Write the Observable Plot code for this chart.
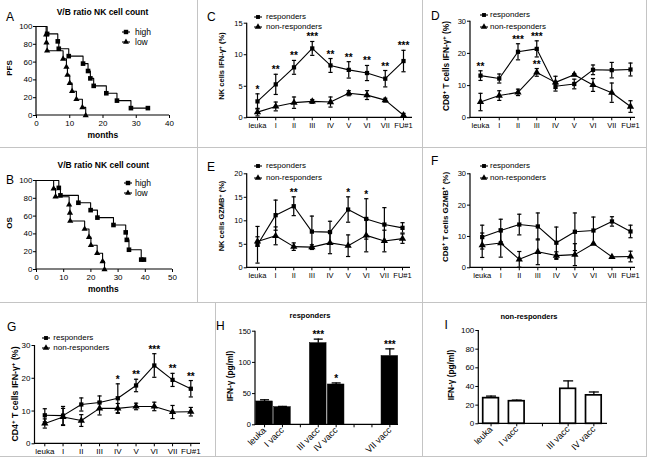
<!DOCTYPE html>
<html><head><meta charset="utf-8">
<script src="https://cdn.jsdelivr.net/npm/d3@7"></script>
<script src="https://cdn.jsdelivr.net/npm/@observablehq/plot@0.6"></script>
<style>
body{margin:0;background:#fff;}
#fig{position:relative;width:647px;height:465px;font-family:"Liberation Sans",Arial,Helvetica,sans-serif;color:#000;overflow:hidden;background:#fff;}
#fig > svg{position:absolute;left:0;top:0;}
.t{position:absolute;white-space:nowrap;line-height:1;}
.t sup{font-size:70%;vertical-align:0.45em;line-height:0;}
.grid{position:absolute;background:#c4c4c4;}
</style></head><body><div id="fig"></div><script>
// ---------------- DATA ----------------
// Kaplan-Meier, V/B ratio NK cell count (first point = start of curve)
const aHighTime = [0, 3.2, 6.4, 6.7, 9.7, 14.0, 15.5, 16.2, 17.2, 21.0, 24.2, 28.4, 33.5];
const aHighSurv = [100, 91.7, 83.3, 75, 66.7, 58.3, 50, 41.7, 33.3, 25, 16.7, 8.3, 8.3];
const aLowTime  = [0, 2.9, 3.0, 3.2, 8.0, 9.0, 9.3, 10.0, 10.7, 12.0, 13.8, 14.8];
const aLowSurv  = [100, 90.9, 81.8, 72.7, 63.6, 54.5, 45.5, 36.4, 27.3, 18.2, 9.1, 0];
const bHighTime = [0, 8.2, 8.8, 15.4, 19.9, 22.4, 28.3, 32.8, 33.2, 34.0, 38.5, 39.5];
const bHighSurv = [100, 91.7, 83.3, 75, 66.7, 58.3, 50, 41.7, 33.3, 22.2, 11.1, 11.1];
const bLowTime  = [0, 6.3, 7.0, 12.0, 12.3, 12.4, 17.7, 19.3, 20.0, 22.3, 24.3, 25.0];
const bLowSurv  = [100, 90.9, 81.8, 72.7, 63.6, 54.5, 45.5, 36.4, 27.3, 18.2, 9.1, 0];

const timepoints = ["leuka","I","II","III","IV","V","VI","VII","FU#1"];

const cResp = [2.6, 5.3, 8.0, 11.0, 8.3, 7.6, 7.1, 6.2, 9.0];
const cRespErr = [1.2, 1.6, 1.1, 1.1, 1.1, 1.3, 1.2, 1.3, 1.7];
const cNon = [0.9, 1.8, 2.4, 2.6, 2.5, 3.9, 3.6, 2.8, 0.4];
const cNonErr = [0.6, 0.7, 0.9, 0.3, 0.8, 0.4, 0.7, 0.3, 0.3];
const cRespStars = ["*","**","**","***","**","**","**","**","***"];

const dResp = [13.1, 12.2, 20.5, 21.4, 9.8, 10.5, 14.9, 14.8, 15.0];
const dRespErr = [1.5, 1.4, 2.5, 2.5, 1.5, 1.5, 1.5, 2.4, 2.0];
const dNon = [4.9, 6.9, 7.9, 14.1, 11.0, 13.4, 10.2, 7.8, 3.5];
const dNonErr = [2.7, 1.5, 1.0, 1.2, 1.9, 0.3, 2.0, 3.0, 1.8];
const dRespStars = ["**","","***","***","","","","",""];
const dNonStars = ["","","","**","","","","",""];

const eResp = [4.9, 11.2, 13.1, 7.7, 7.6, 12.4, 10.4, 9.2, 8.5];
const eRespErr = [3.9, 3.2, 2.0, 3.3, 2.3, 2.7, 4.3, 3.6, 1.1];
const eNon = [5.6, 6.8, 4.5, 4.4, 5.3, 4.7, 6.9, 5.7, 6.2];
const eNonErr = [1.0, 1.9, 0.8, 0.5, 2.3, 2.3, 3.5, 2.3, 1.0];
const eRespStars = ["","","**","","","*","*","",""];

const fResp = [9.8, 11.9, 13.8, 13.2, 8.0, 11.5, 11.9, 14.8, 11.6];
const fRespErr = [3.8, 3.6, 3.3, 4.3, 5.0, 6.0, 4.3, 1.5, 2.0];
const fNon = [7.2, 7.9, 2.7, 5.1, 3.9, 4.2, 7.7, 3.5, 3.6];
const fNonErr = [3.9, 4.5, 2.5, 4.1, 1.2, 3.5, 0, 0, 1.7];

const gResp = [8.7, 8.6, 12.0, 12.6, 13.9, 17.8, 23.9, 19.5, 16.8];
const gRespErr = [2.0, 2.8, 2.0, 2.0, 4.4, 1.9, 3.6, 2.0, 2.5];
const gNon = [6.2, 8.2, 7.1, 10.8, 10.8, 11.4, 11.4, 9.7, 9.8];
const gNonErr = [1.4, 2.6, 1.8, 2.0, 1.5, 1.0, 1.3, 2.0, 1.3];
const gRespStars = ["","","","","*","**","***","**","**"];

const hSlots = ["leuka","I vacc","II vacc","III vacc","IV vacc","V vacc","VI vacc","VII vacc"];
const hValues = [37.4, 28.3, null, 130.8, 64.6, null, null, 110.2];
const hErr = [2.7, 1.2, null, 6.5, 2.5, null, null, 11.5];
const hStars = ["","","","***","*","","","***"];

const iSlots = ["leuka","I vacc","II vacc","III vacc","IV vacc"];
const iValues = [27.5, 24.2, null, 37.5, 30.5];
const iErr = [2.2, 1.2, null, 8.5, 3.6];

// ---------------- HELPERS ----------------
const FONT = '"Liberation Sans", Arial, Helvetica, sans-serif';
const W = 647, H = 465;
const fig = document.getElementById("fig");

const cap = {draw(ctx, size) { const w = Math.sqrt(size / Math.PI); ctx.moveTo(-w, 0); ctx.lineTo(w, 0); }};

function lAxes() {
  return (index, scales, values, dims) => {
    const g = d3.create("svg:g").attr("stroke", "black").attr("stroke-width", 1.2).attr("fill", "none");
    const x0 = dims.marginLeft, x1 = dims.width - dims.marginRight;
    const y0 = dims.height - dims.marginBottom, y1 = dims.marginTop;
    g.append("line").attr("x1", x0).attr("x2", x0).attr("y1", y0 + 0.6).attr("y2", y1);
    g.append("line").attr("x1", x0).attr("x2", x1).attr("y1", y0).attr("y2", y0);
    return g.node();
  };
}

function baseStyle(fs) {
  return {background: "transparent", overflow: "visible", fontFamily: FONT, fontSize: fs + "px", color: "black"};
}

function add(svg) { fig.appendChild(svg); }

function txt(html, x, y, {size = 8, weight = "normal", anchor = "middle", rotate = false} = {}) {
  const d = document.createElement("div");
  d.className = "t";
  d.innerHTML = html;
  d.style.left = x + "px"; d.style.top = y + "px";
  d.style.fontSize = size + "px"; d.style.fontWeight = weight;
  const tx = anchor === "start" ? "0" : "-50%";
  d.style.transform = `translate(${tx},-50%)` + (rotate ? " rotate(-90deg)" : "");
  fig.appendChild(d);
}

function legendItem(cx, cy, sym, r, label, textX, size) {
  const s = d3.create("svg").attr("width", 16).attr("height", 10)
    .style("position", "absolute").style("left", (cx - 8) + "px").style("top", (cy - 5) + "px").style("overflow", "visible");
  s.append("line").attr("x1", 4).attr("x2", 12).attr("y1", 5).attr("y2", 5).attr("stroke", "black").attr("stroke-width", 1.1);
  s.append("path").attr("transform", "translate(8,5)").attr("d", d3.symbol(sym, r * r * Math.PI)()).attr("fill", "black");
  fig.appendChild(s.node());
  txt(label, textX, cy, {size, anchor: "start"});
}

function kmPanel({left, right, top, bottom, xmax, xticks, highT, highS, lowT, lowS}) {
  const hi = highT.map((t, i) => ({t, s: highS[i], i}));
  const lo = lowT.map((t, i) => ({t, s: lowS[i], i}));
  return Plot.plot({
    width: W, height: H,
    marginLeft: left, marginRight: W - right, marginTop: top, marginBottom: H - bottom,
    x: {domain: [0, xmax]}, y: {domain: [0, 100]},
    style: baseStyle(8),
    marks: [
      lAxes(),
      Plot.axisX({ticks: xticks, tickSize: 3, tickPadding: 1.5, label: null, fontSize: 8}),
      Plot.axisY({ticks: [0, 20, 40, 60, 80, 100], tickSize: 3, tickPadding: 1, label: null, fontSize: 8}),
      Plot.line(hi, {x: "t", y: "s", curve: "step-after", stroke: "black", strokeWidth: 1.1}),
      Plot.line(lo, {x: "t", y: "s", curve: "step-after", stroke: "black", strokeWidth: 1.1}),
      Plot.dot(hi.filter(d => d.i > 0), {x: "t", y: "s", symbol: "square", fill: "black", r: 2.6}),
      Plot.dot(lo.filter(d => d.i > 0), {x: "t", y: "s", symbol: "triangle", fill: "black", r: 2.3})
    ]
  });
}

function linePanel({left, right, top, bottom, xr, ymax, yticks, resp, respErr, non, nonErr, respStars = [], nonStars = [], fs = 7.5}) {
  const R = timepoints.map((c, i) => ({c, m: resp[i], e: respErr[i], star: respStars[i] || ""}));
  const N = timepoints.map((c, i) => ({c, m: non[i], e: nonErr[i], star: nonStars[i] || ""}));
  const marks = [
    lAxes(),
    Plot.axisX({tickSize: 3, tickPadding: 2, label: null, fontSize: fs}),
    Plot.axisY({ticks: yticks, tickSize: 3, tickPadding: 1.5, label: null, fontSize: fs})
  ];
  for (const [D, sym, r] of [[N, "triangle", 2.7], [R, "square", 2.4]]) {
    const withErr = D.filter(d => d.e > 0);
    marks.push(
      Plot.line(D, {x: "c", y: "m", stroke: "black", strokeWidth: 1.1}),
      Plot.ruleX(withErr, {x: "c", y1: d => Math.max(0, d.m - d.e), y2: d => d.m + d.e, stroke: "black", strokeWidth: 1.2}),
      Plot.dot(withErr, {x: "c", y: d => d.m + d.e, symbol: cap, r: 2.1, fill: "none", stroke: "black", strokeWidth: 1.2}),
      Plot.dot(withErr, {x: "c", y: d => Math.max(0, d.m - d.e), symbol: cap, r: 2.1, fill: "none", stroke: "black", strokeWidth: 1.2}),
      Plot.dot(D, {x: "c", y: "m", symbol: sym, fill: "black", r}),
      Plot.text(D.filter(d => d.star), {x: "c", y: d => d.m + d.e, text: "star", dy: -1, lineAnchor: "bottom", fontSize: 10, fontWeight: "bold"})
    );
  }
  return Plot.plot({
    width: W, height: H,
    marginLeft: left, marginRight: W - right, marginTop: top, marginBottom: H - bottom,
    x: {type: "point", domain: timepoints, range: xr, padding: 0, round: false},
    y: {domain: [0, ymax]},
    style: baseStyle(fs),
    marks
  });
}

function barPanel({left, right, top, bottom, xr, pi, po, slots, values, err, stars = [], ymax, yticks, fill, sw, capR, fs, xfs}) {
  const rows = slots.map((s, i) => ({s, v: values[i], e: err[i], star: stars[i] || ""})).filter(d => d.v != null);
  const shown = new Set(rows.map(d => d.s));
  return Plot.plot({
    width: W, height: H,
    marginLeft: left, marginRight: W - right, marginTop: top, marginBottom: H - bottom,
    x: {type: "band", domain: slots, range: xr, paddingInner: pi, paddingOuter: po, round: false},
    y: {domain: [0, ymax]},
    style: baseStyle(fs),
    marks: [
      Plot.barY(rows, {x: "s", y: "v", fill, stroke: "black", strokeWidth: sw}),
      Plot.ruleX(rows, {x: "s", y1: "v", y2: d => d.v + d.e, stroke: "black", strokeWidth: 1.3}),
      Plot.dot(rows, {x: "s", y: d => d.v + d.e, symbol: cap, r: capR, fill: "none", stroke: "black", strokeWidth: 1.3}),
      Plot.text(rows.filter(d => d.star), {x: "s", y: d => d.v + d.e, text: "star", dy: -1, lineAnchor: "bottom", fontSize: 10, fontWeight: "bold"}),
      lAxes(),
      Plot.axisX({tickSize: 3, tickPadding: 1, tickRotate: -45, tickFormat: s => shown.has(s) ? s : "", label: null, fontSize: xfs}),
      Plot.axisY({ticks: yticks, tickSize: 3, tickPadding: 1.5, label: null, fontSize: fs})
    ]
  });
}

// ---------------- GRID ----------------
function gridLine(x, y, w, h) {
  const d = document.createElement("div"); d.className = "grid";
  Object.assign(d.style, {left: x + "px", top: y + "px", width: w + "px", height: h + "px"});
  fig.appendChild(d);
}
gridLine(197, 0, 1, 302);
gridLine(421.5, 0, 1, 456);
gridLine(0, 147, 647, 1);
gridLine(0, 301.5, 647, 1);
gridLine(214.5, 302, 1, 154);
gridLine(0, 455.5, 647, 1);
gridLine(645.5, 0, 1, 456);

// ---------------- PANELS ----------------
add(kmPanel({left: 36, right: 169, top: 26, bottom: 115, xmax: 40, xticks: [0, 10, 20, 30, 40],
  highT: aHighTime, highS: aHighSurv, lowT: aLowTime, lowS: aLowSurv}));
add(kmPanel({left: 36, right: 172, top: 180, bottom: 269, xmax: 50, xticks: [0, 10, 20, 30, 40, 50],
  highT: bHighTime, highS: bHighSurv, lowT: bLowTime, lowS: bLowSurv}));

add(linePanel({left: 246.7, right: 412, top: 22.7, bottom: 117.3, xr: [257, 403], ymax: 15, yticks: [0, 5, 10, 15],
  resp: cResp, respErr: cRespErr, non: cNon, nonErr: cNonErr, respStars: cRespStars}));
add(linePanel({left: 470, right: 635, top: 20.7, bottom: 117.3, xr: [480, 630], ymax: 30, yticks: [0, 10, 20, 30],
  resp: dResp, respErr: dRespErr, non: dNon, nonErr: dNonErr, respStars: dRespStars, nonStars: dNonStars}));
add(linePanel({left: 246.7, right: 410, top: 173.3, bottom: 267.3, xr: [257, 402], ymax: 20, yticks: [0, 5, 10, 15, 20],
  resp: eResp, respErr: eRespErr, non: eNon, nonErr: eNonErr, respStars: eRespStars}));
add(linePanel({left: 470, right: 635, top: 173.3, bottom: 267.3, xr: [481.7, 630], ymax: 30, yticks: [0, 10, 20, 30],
  resp: fResp, respErr: fRespErr, non: fNon, nonErr: fNonErr}));
add(linePanel({left: 34.5, right: 200, top: 345, bottom: 443.3, xr: [44.3, 190.3], ymax: 30, yticks: [0, 10, 20, 30],
  resp: gResp, respErr: gRespErr, non: gNon, nonErr: gNonErr, respStars: gRespStars, fs: 8}));

add(barPanel({left: 255, right: 398, top: 330.7, bottom: 424.3, xr: [255.1, 398.3], pi: 0.07, po: 0.035,
  slots: hSlots, values: hValues, err: hErr, stars: hStars, ymax: 150, yticks: [0, 50, 100, 150],
  fill: "black", sw: 0.5, capR: 4.5, fs: 7.5, xfs: 9}));
add(barPanel({left: 478.3, right: 607, top: 330, bottom: 423.3, xr: [477.7, 606.2], pi: 0.39, po: 0.195,
  slots: iSlots, values: iValues, err: iErr, ymax: 100, yticks: [0, 20, 40, 60, 80, 100],
  fill: "white", sw: 1.7, capR: 5, fs: 8, xfs: 9}));

// ---------------- TEXT ----------------
const letter = {size: 12, anchor: "start"};
txt("A", 6, 17, letter); txt("B", 6, 180, letter); txt("C", 207, 17, letter); txt("D", 431, 15.5, letter);
txt("E", 207, 167, letter); txt("F", 431, 161, letter); txt("G", 7, 327, letter); txt("H", 216, 325.5, letter);
txt("I", 444.5, 325, letter);

txt("V/B ratio NK cell count", 102.5, 12, {size: 8.5, weight: "bold"});
txt("V/B ratio NK cell count", 103.3, 165, {size: 8.5, weight: "bold"});
txt("responders", 310, 316, {size: 7.5, weight: "bold"});
txt("non-responders", 529, 317, {size: 7.5, weight: "bold"});

txt("months", 102.8, 135, {size: 8.5, weight: "bold"});
txt("months", 103.3, 289.3, {size: 8.5, weight: "bold"});

txt("PFS", 10, 68, {size: 8, weight: "bold", rotate: true});
txt("OS", 10, 223.3, {size: 8, weight: "bold", rotate: true});
txt("NK cells IFN-γ<sup>+</sup> (%)", 222, 66, {size: 7.5, weight: "bold", rotate: true});
txt("CD8<sup>+</sup> T cells IFN-γ<sup>+</sup> (%)", 446, 66, {size: 8.3, weight: "bold", rotate: true});
txt("NK cells GZMB<sup>+</sup> (%)", 222, 216, {size: 7.5, weight: "bold", rotate: true});
txt("CD8<sup>+</sup> T cells GZMB<sup>+</sup> (%)", 446, 216.7, {size: 8, weight: "bold", rotate: true});
txt("CD4<sup>+</sup> T cells IFN-γ<sup>+</sup> (%)", 15, 394, {size: 8.8, weight: "bold", rotate: true});
txt("IFN-γ (pg/ml)", 230, 376, {size: 8.3, weight: "bold", rotate: true});
txt("IFN-γ (pg/ml)", 450.7, 375, {size: 8.3, weight: "bold", rotate: true});

// legends
legendItem(126, 32.3, d3.symbolSquare, 2.5, "high", 135, 8.5);
legendItem(126, 42.3, d3.symbolTriangle, 2.2, "low", 135, 8.5);
legendItem(127.5, 183.3, d3.symbolSquare, 2.5, "high", 135, 8.5);
legendItem(127.5, 193.3, d3.symbolTriangle, 2.2, "low", 135, 8.5);
const legs = [[258.3, 17, 27.3, 266], [483.7, 15, 27.3, 490], [258.3, 165.7, 178.3, 266], [483.7, 166, 178.3, 490], [46, 338.3, 348.3, 53.3]];
for (const [cx, y1, y2, tx] of legs) {
  legendItem(cx, y1, d3.symbolSquare, 2.2, "responders", tx, 8);
  legendItem(cx, y2, d3.symbolTriangle, 2.4, "non-responders", tx, 8);
}
</script></body></html>
